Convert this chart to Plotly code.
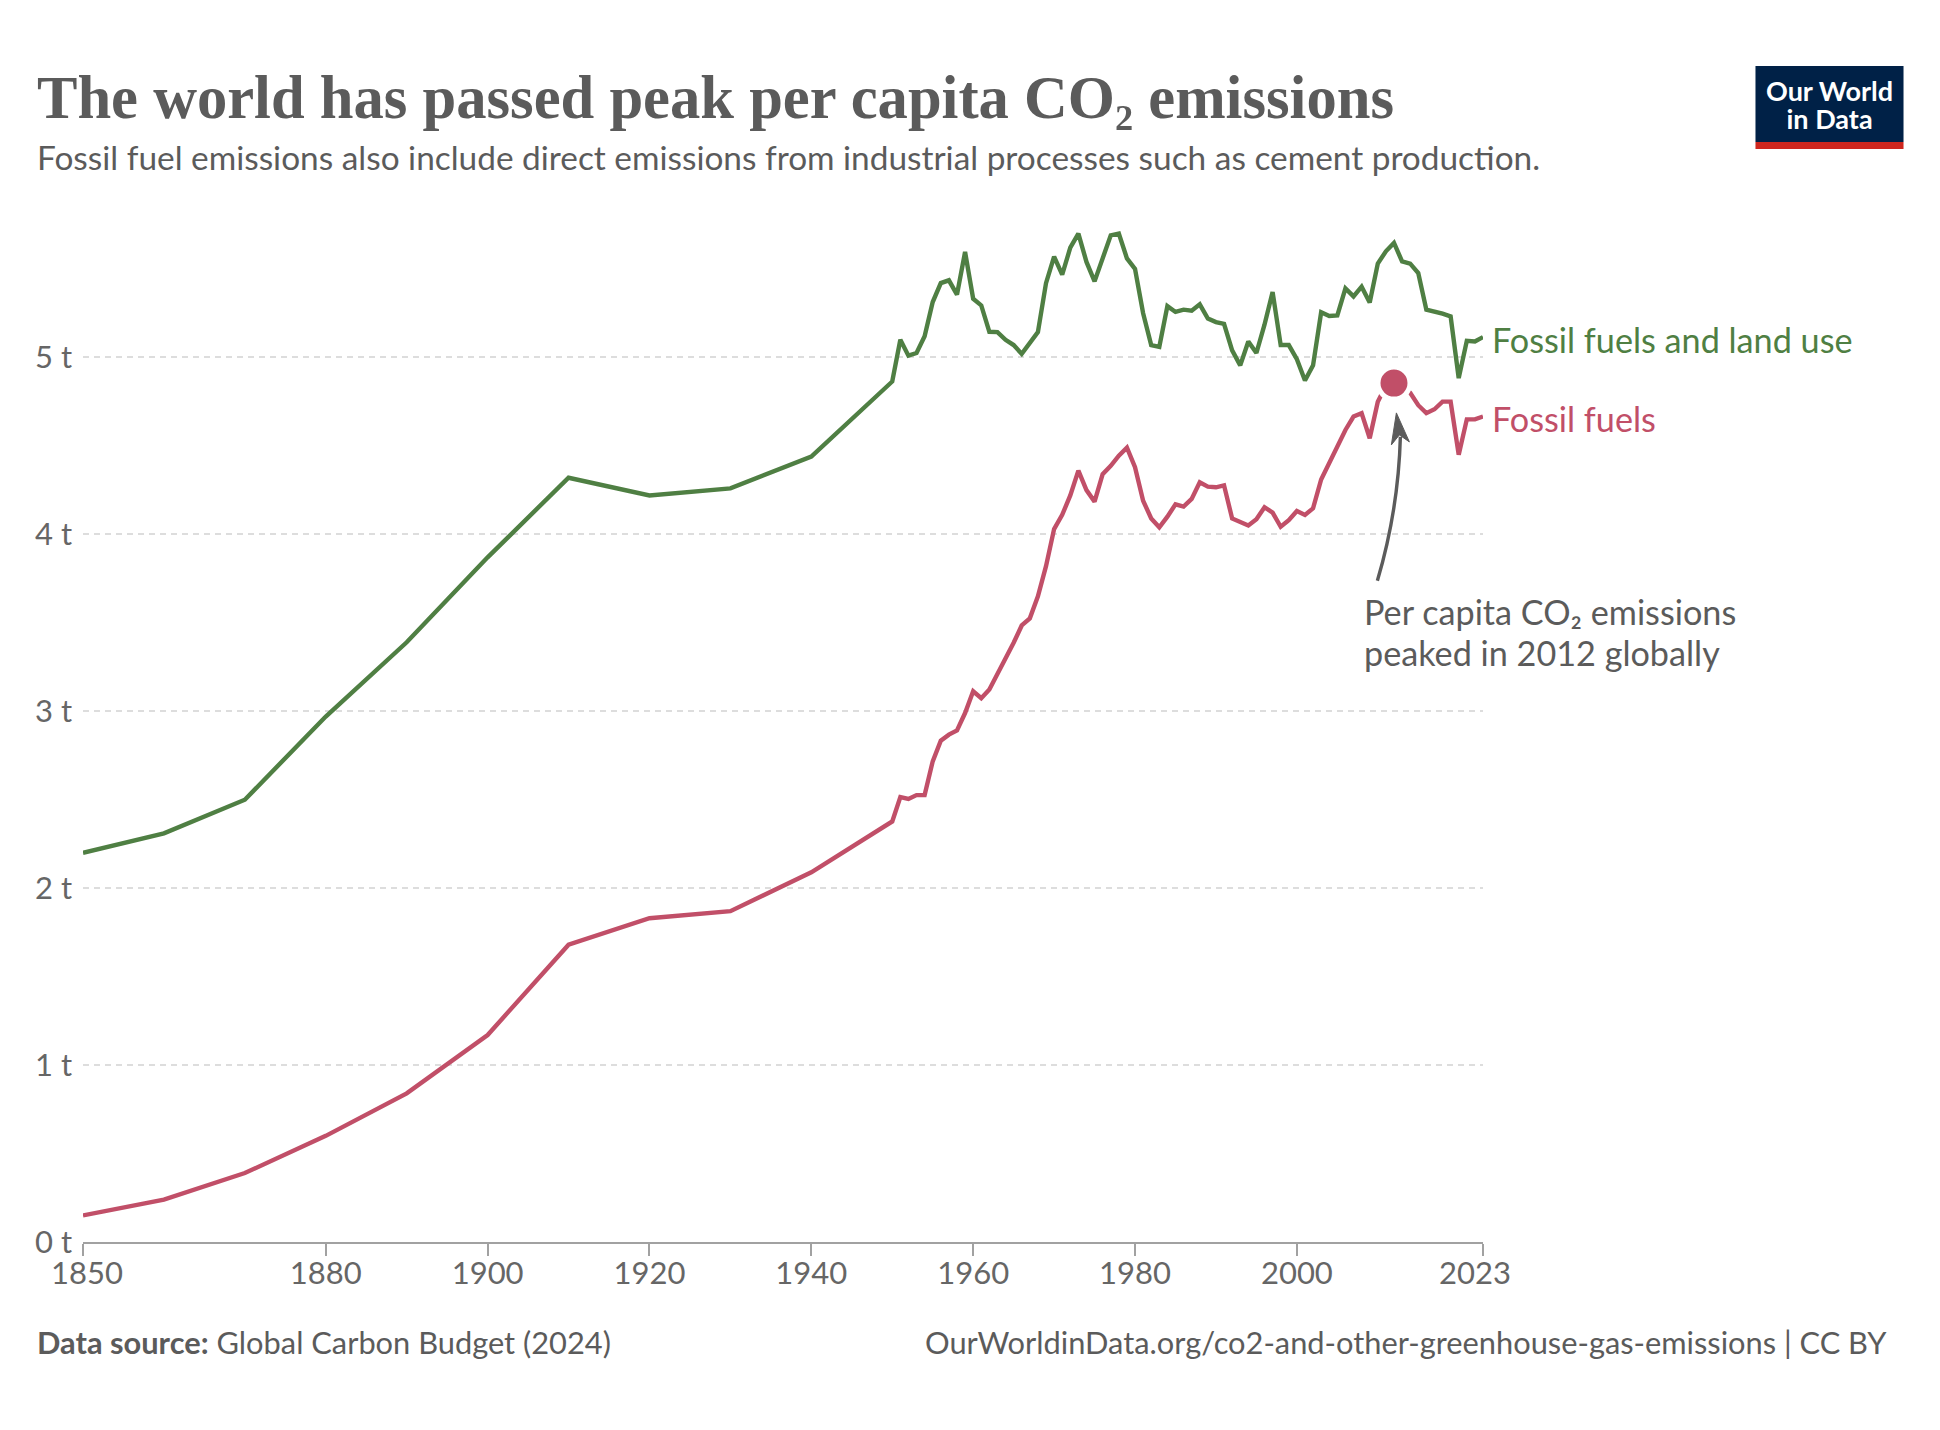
import plotly.graph_objects as go

years = [1850, 1860, 1870, 1880, 1890, 1900, 1910, 1920, 1930, 1940, 1950,
         1951, 1952, 1953, 1954, 1955, 1956, 1957, 1958, 1959, 1960,
         1961, 1962, 1963, 1964, 1965, 1966, 1967, 1968, 1969, 1970,
         1971, 1972, 1973, 1974, 1975, 1976, 1977, 1978, 1979, 1980,
         1981, 1982, 1983, 1984, 1985, 1986, 1987, 1988, 1989, 1990,
         1991, 1992, 1993, 1994, 1995, 1996, 1997, 1998, 1999, 2000,
         2001, 2002, 2003, 2004, 2005, 2006, 2007, 2008, 2009, 2010,
         2011, 2012, 2013, 2014, 2015, 2016, 2017, 2018, 2019, 2020,
         2021, 2022, 2023]

fossil_land = [2.20, 2.31, 2.50, 2.97, 3.39, 3.87, 4.32, 4.22, 4.26, 4.44, 4.864,
               5.10, 5.01, 5.025, 5.12, 5.313, 5.42, 5.436, 5.355, 5.596, 5.332,
               5.294, 5.145, 5.143, 5.10, 5.07, 5.02, 5.08, 5.143, 5.42, 5.57,
               5.468, 5.62, 5.70, 5.54, 5.43, 5.56, 5.69, 5.70, 5.56, 5.50,
               5.25, 5.07, 5.06, 5.29, 5.257, 5.27, 5.264, 5.30, 5.22, 5.20,
               5.19, 5.04, 4.955, 5.09, 5.025, 5.185, 5.37, 5.07, 5.07, 4.99,
               4.87, 4.955, 5.255, 5.234, 5.238, 5.39, 5.345, 5.40, 5.31, 5.53,
               5.60, 5.647, 5.543, 5.53, 5.477, 5.27, 5.26, 5.247, 5.232, 4.883,
               5.094, 5.09, 5.115]

fossil = [0.15, 0.24, 0.39, 0.60, 0.84, 1.17, 1.68, 1.83, 1.87, 2.09, 2.377,
          2.515, 2.504, 2.526, 2.526, 2.717, 2.834, 2.868, 2.892, 2.99, 3.113,
          3.074, 3.123, 3.21, 3.31, 3.387, 3.485, 3.525, 3.65, 3.82, 4.03,
          4.11, 4.22, 4.36, 4.25, 4.185, 4.34, 4.387, 4.445, 4.49, 4.38,
          4.19, 4.09, 4.04, 4.10, 4.17, 4.157, 4.20, 4.294, 4.27, 4.266,
          4.277, 4.09, 4.068, 4.05, 4.085, 4.153, 4.123, 4.043, 4.08, 4.132,
          4.11, 4.147, 4.31, 4.405, 4.496, 4.59, 4.666, 4.685, 4.543, 4.75,
          4.84, 4.855, 4.84, 4.80, 4.73, 4.685, 4.707, 4.75, 4.75, 4.45,
          4.65, 4.65, 4.666]

x_ticks = [1850, 1880, 1900, 1920, 1940, 1960, 1980, 2000, 2023]
x_labels = ["\u00a01850", "1880", "1900", "1920", "1940", "1960", "1980", "2000", "2023\u00a0\u00a0"]
y_ticks = [0, 1, 2, 3, 4, 5]
y_labels = ["0 t", "1 t", "2 t", "3 t", "4 t", "5 t"]
peak_year = 2012

GREEN = "#4f7f43"
RED = "#c14f68"
TEXT = "#5b5b5b"
TICK = "#666666"
W, H = 1940, 1430
L, R, T, B = 83, 1482.6, 216, 1242.5
UNIT = 177.0


def px(v):
    return (v - L) / (R - L)


def py(v):
    return (B - v) / (B - T)


def note(x, y, text, size, color=TEXT, xanchor="left", yanchor="middle", family="Lato", align="left"):
    return dict(x=px(x), y=py(y), xref="paper", yref="paper", text=text, showarrow=False,
                xanchor=xanchor, yanchor=yanchor, align=align,
                font=dict(family=family, size=size, color=color))


fig = go.Figure()
fig.add_trace(go.Scatter(x=years, y=fossil_land, mode="lines", name="Fossil fuels and land use",
                         line=dict(color=GREEN, width=4.4), showlegend=False, hoverinfo="skip"))
fig.add_trace(go.Scatter(x=years, y=fossil, mode="lines", name="Fossil fuels",
                         line=dict(color=RED, width=4.4), showlegend=False, hoverinfo="skip"))
fig.add_trace(go.Scatter(x=[peak_year], y=[fossil[years.index(peak_year)]], mode="markers", name="Peak",
                         marker=dict(color=RED, size=32, line=dict(color="white", width=5)),
                         showlegend=False, hoverinfo="skip"))

shapes = [
    dict(type="rect", xref="paper", yref="paper", x0=px(1755), x1=px(1903), y0=py(66), y1=py(142),
         fillcolor="#002147", line_width=0),
    dict(type="rect", xref="paper", yref="paper", x0=px(1755), x1=px(1903), y0=py(142), y1=py(149),
         fillcolor="#ce261e", line_width=0),
    dict(type="path", xref="paper", yref="paper",
         path=f"M {px(1377)} {py(581)} Q {px(1398)} {py(510)} {px(1400)} {py(437)}",
         line=dict(color=TEXT, width=3.4), fillcolor="rgba(0,0,0,0)"),
    dict(type="path", xref="paper", yref="paper",
         path=f"M {px(1396)} {py(413)} L {px(1409)} {py(442)} L {px(1399)} {py(435)} L {px(1391)} {py(445)} Z",
         line=dict(color=TEXT, width=1), fillcolor=TEXT),
]

annotations = [
    note(35, 157, "Fossil fuel emissions also include direct emissions from industrial processes such as cement production.", 33.4),
    note(1490, 340, "Fossil fuels and land use", 34.2, GREEN),
    note(1490, 419, "Fossil fuels", 34.2, RED),
    note(1362, 632,
         '<span style="font-size:34.2px">Per capita CO\u2082 emissions</span><br>'
         '<span style="font-size:34.2px">peaked in 2012 globally</span>', 31.5),
    note(35, 1343, "<b>Data source:</b> Global Carbon Budget (2024)", 30.8),
    note(1888, 1343, "OurWorldinData.org/co2-and-other-greenhouse-gas-emissions | CC BY", 30.8, xanchor="right"),
    note(1829, 104,
         '<span style="font-size:27px"><b>Our World</b></span><br>'
         '<span style="font-size:27px"><b>in Data</b></span>', 21.5, "#ffffff", xanchor="center", align="center"),
]

fig.update_layout(
    width=W, height=H, autosize=False,
    margin=dict(l=L, r=W - R, t=T, b=H - B, pad=0),
    paper_bgcolor="white", plot_bgcolor="white",
    title=dict(text="<b>The world has passed peak per capita CO\u2082 emissions</b>",
               x=37 / W, xref="container", xanchor="left",
               y=1 - 97 / H, yref="container", yanchor="middle",
               font=dict(family="Liberation Serif", size=60.6, color="#5b5b5b")),
    shapes=shapes, annotations=annotations,
    xaxis=dict(range=[1850, 2023], tickmode="array", tickvals=x_ticks, ticktext=x_labels,
               showgrid=False, zeroline=False, showline=True, linecolor="#a1a1a1", linewidth=2,
               ticks="outside", ticklen=12, tickwidth=1.5, tickcolor="#a1a1a1", ticklabelstandoff=-9,
               tickfont=dict(family="Lato", size=31, color=TICK), tickangle=0),
    yaxis=dict(range=[0, (B - T) / UNIT], tickmode="array", tickvals=y_ticks, ticktext=y_labels,
               showgrid=True, gridcolor="#dddddd", griddash="6px,5px", gridwidth=2,
               zeroline=False, showline=False, ticks="", ticklabelstandoff=10,
               tickfont=dict(family="Lato", size=31, color=TICK)),
)

fig.write_html("out.html", config={"displayModeBar": False}, post_script="document.body.style.margin='0';")
